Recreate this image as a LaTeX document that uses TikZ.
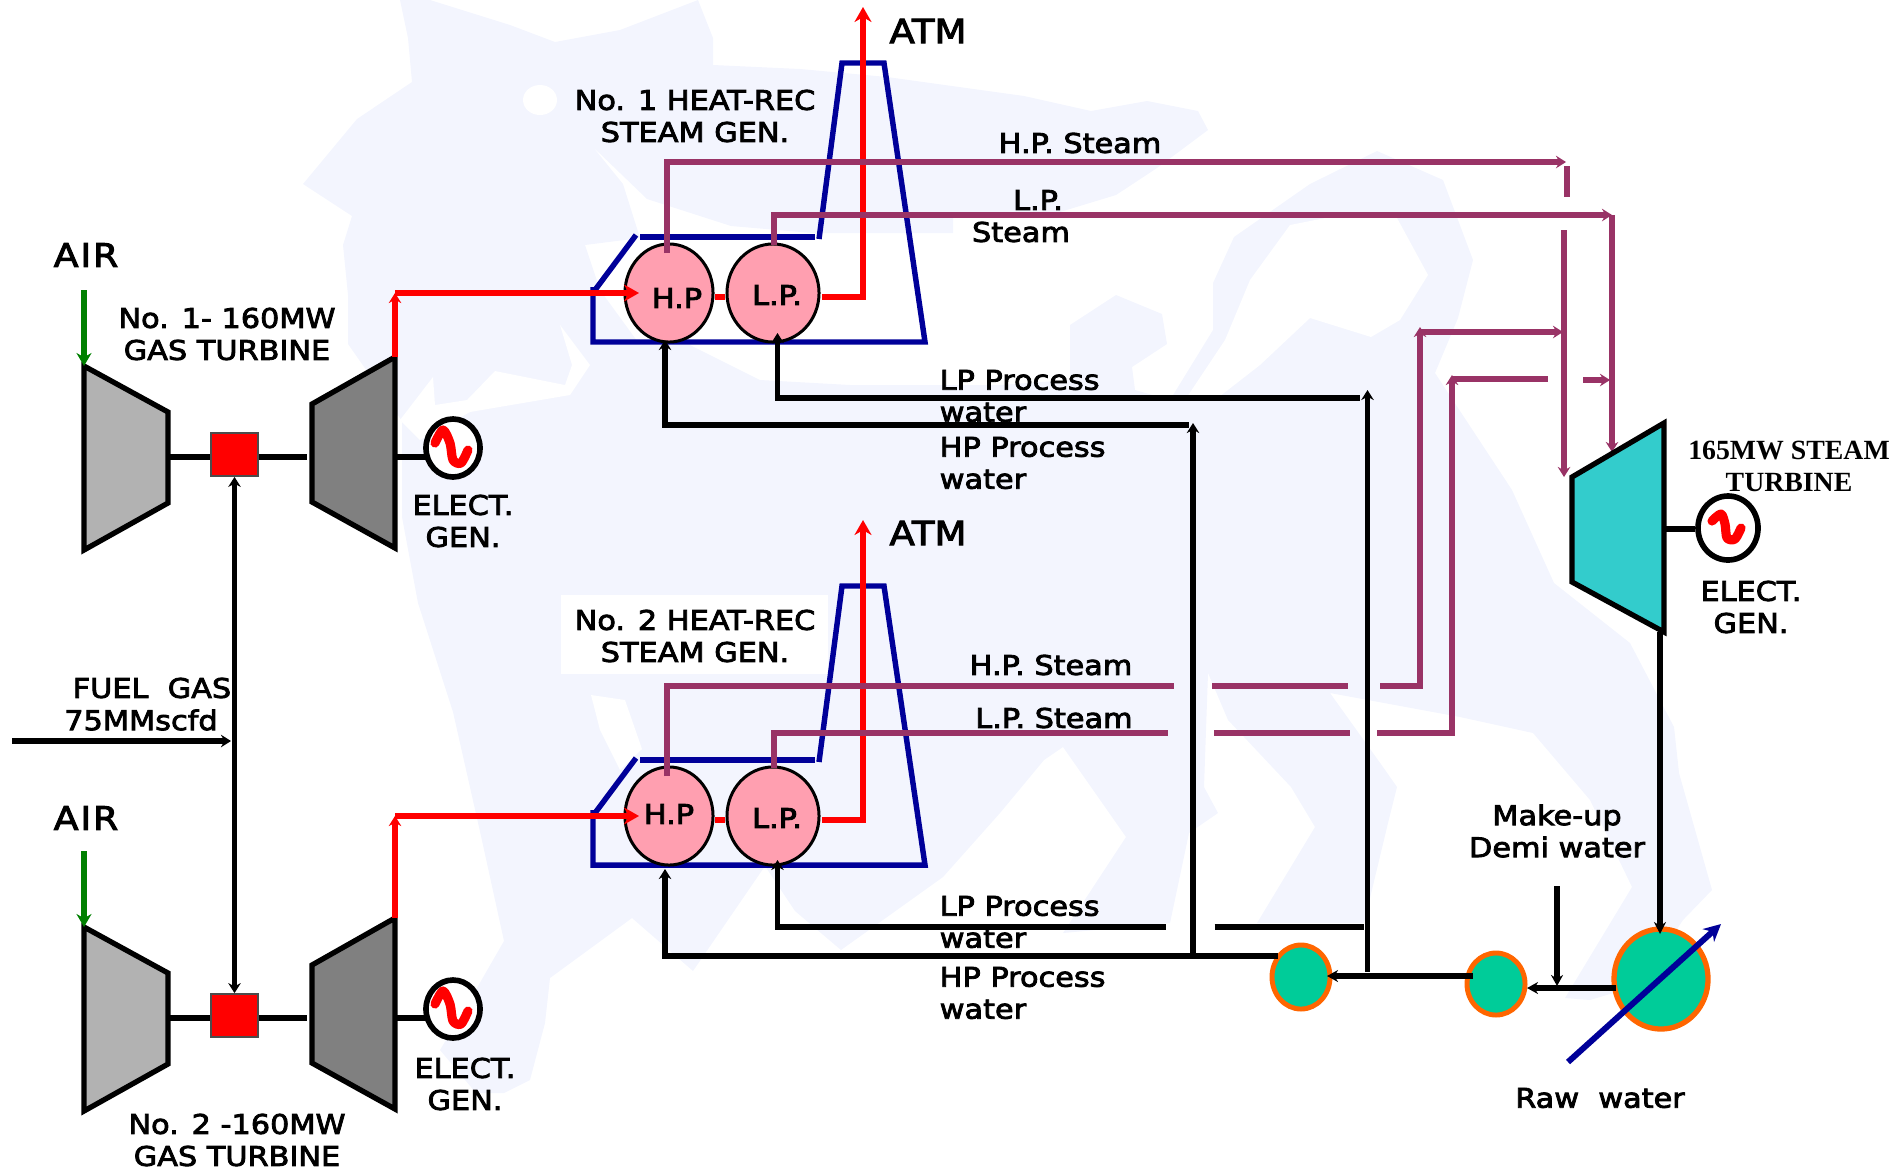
\documentclass[tikz,border=0pt]{standalone}
\usepackage{fontspec}
\usepackage{tikz}
\usetikzlibrary{arrows.meta,shapes.geometric,positioning}
\newfontfamily\lblfamily[FakeBold=3,FakeStretch=1.12]{DejaVu Sans}
\newfontfamily\airfamily[FakeBold=3,FakeStretch=1.12,LetterSpace=6]{DejaVu Sans}
\newfontfamily\stfamily{Liberation Serif Bold}
\definecolor{paleblue}{RGB}{243,245,254}
\definecolor{compcol}{RGB}{178,178,178}
\definecolor{turbcol}{RGB}{128,128,128}
\definecolor{steamturb}{RGB}{51,204,204}
\definecolor{hrsgcol}{RGB}{0,0,153}
\definecolor{steamcol}{RGB}{153,51,102}
\definecolor{drumcol}{RGB}{255,159,176}
\definecolor{pumpcol}{RGB}{0,204,153}
\definecolor{pumpedge}{RGB}{255,102,0}
\definecolor{aircol}{RGB}{0,128,0}
\tikzset{
  lbl/.style={inner sep=0pt,align=center,font=\lblfamily\fontsize{7.7}{9.1}\selectfont},
  lbig/.style={inner sep=0pt,font=\lblfamily\fontsize{9.4}{11}\selectfont},
  lair/.style={inner sep=0pt,font=\airfamily\fontsize{9.2}{11}\selectfont},
  lst/.style={inner sep=0pt,align=center,font=\stfamily\fontsize{7.9}{9.1}\selectfont},
  machine/.style={draw=black,line width=1.5pt,miter limit=3},
  shaft/.style={draw=black,line width=1.5pt},
  hrsg/.style={draw=hrsgcol,line width=1.55pt},
  flue/.style={draw=red,line width=1.55pt},
  steam/.style={draw=steamcol,line width=1.5pt},
  water/.style={draw=black,line width=1.5pt},
  bigtip/.style={-{Stealth[length=1.5mm,width=1.7mm]}},
  sqbox/.style={rectangle,draw=black!70,line width=0.5pt,fill=red,minimum width=0.47cm,minimum height=0.43cm,inner sep=0pt},
  gen/.style={ellipse,draw=black,line width=1.6pt,fill=white,inner sep=0pt},
  wave/.style={draw=red,line width=2.6pt,line cap=round,line join=round},
  drum/.style={ellipse,draw=black,line width=0.85pt,fill=drumcol,inner sep=0pt,minimum width=0.88cm,minimum height=0.98cm},
  pump/.style={ellipse,draw=pumpedge,line width=1.4pt,fill=pumpcol,inner sep=0pt}
}
\begin{document}
\begin{tikzpicture}[x=0.01cm,y=-0.01cm,>={Stealth[length=1mm,width=1.25mm]}]
  \useasboundingbox (0,0) rectangle (1904,1169);
  % pale map in the back
  \fill[paleblue] (400,0) -- (430,0) -- (510,25) -- (555,42) -- (620,30) -- (698,0) -- (713,38) -- (713,65)
    -- (800,69) -- (887,77) -- (1024,96) -- (1091,111) -- (1147,101) -- (1198,111) -- (1208,130) -- (1157,168)
    -- (1116,195) -- (1060,212) -- (953,214) -- (953,233) -- (813,233) -- (731,226) -- (647,199) -- (593,147)
    -- (623,184) -- (640,238) -- (585,245) -- (600,290) -- (640,345) -- (690,345) -- (760,380) -- (850,385)
    -- (1000,385) -- (1070,380) -- (1070,325) -- (1116,295) -- (1162,314) -- (1167,344) -- (1132,367) -- (1135,390)
    -- (1170,400) -- (1213,330) -- (1213,283) -- (1234,237) -- (1310,184) -- (1377,151) -- (1443,180) -- (1473,260)
    -- (1458,318) -- (1435,373) -- (1512,490) -- (1554,583) -- (1630,643) -- (1674,727) -- (1679,773) -- (1712,890)
    -- (1683,920) -- (1640,985) -- (1590,1000) -- (1565,998) -- (1632,887) -- (1590,800) -- (1533,733) -- (1460,717)
    -- (1330,693) -- (1383,767) -- (1397,787) -- (1388,823) -- (1364,923) -- (1257,923) -- (1315,827) -- (1291,787)
    -- (1228,720) -- (1208,673) -- (1204,787) -- (1218,813) -- (1189,833) -- (1170,923) -- (1063,933) -- (1126,837)
    -- (1063,747) -- (1044,760) -- (1000,813) -- (943,877) -- (841,950) -- (795,911) -- (765,866) -- (693,971)
    -- (632,918) -- (550,978) -- (545,1023) -- (530,1080) -- (504,1093) -- (476,1093) -- (440,1050) -- (470,1000)
    -- (504,941) -- (481,836) -- (453,712) -- (418,603) -- (402,517) -- (402,421) -- (348,344) -- (348,295)
    -- (343,245) -- (352,216) -- (303,184) -- (357,119) -- (412,82) -- (408,38) -- cycle;
  % holes in the map
  \fill[white] (540,100) ellipse (17 and 15);
  \fill[white] (1290,225) -- (1340,215) -- (1397,218) -- (1428,275) -- (1400,320) -- (1371,337) -- (1310,318)
    -- (1260,365) -- (1215,400) -- (1185,400) -- (1225,340) -- (1250,280) -- cycle;
  \fill[white] (400,420) -- (433,377) -- (435,405) -- (467,400) -- (495,371) -- (565,385) -- (572,365) -- (560,325)
    -- (590,365) -- (570,395) -- (470,412) -- (420,440) -- cycle;
  \fill[white] (591,695) -- (625,700) -- (642,749) -- (620,770) -- (600,730) -- cycle;
  \fill[white] (561,595) rectangle (828,674);

  % the two gas turbine trains
  \foreach \n/\dy in {1/0,2/561}{
    \filldraw[machine,fill=compcol] (84,366+\dy) -- (168,412+\dy) -- (168,503+\dy) -- (84,550+\dy) -- cycle;
    \filldraw[machine,fill=turbcol] (312,404+\dy) -- (395,357+\dy) -- (395,548+\dy) -- (312,502+\dy) -- cycle;
    \node[sqbox] (sq\n) at (234.5,454.5+\dy) {};
    \node[gen,minimum width=0.54cm,minimum height=0.58cm] (gen\n) at (453,448+\dy) {};
    \draw[wave,shift={(gen\n.center)}] plot[smooth] coordinates {(-18,-5) (-10,-18) (-3,-5) (0,12) (8,15) (15,2)};
    \coordinate (cpout\n) at (168,457+\dy);
    \coordinate (tbin\n) at (307,457+\dy);
    \coordinate (tbout\n) at (395,457+\dy);
    \coordinate (genin\n) at (427,457+\dy);
    \coordinate (airin\n) at (84,290+\dy);
    \coordinate (cptop\n) at (84,366+\dy);
    \coordinate (tbtop\n) at (395,357+\dy);
    \draw[shaft] (cpout\n) -- (cpout\n -| sq\n.west);
    \draw[shaft] (tbin\n -| sq\n.east) -- (tbin\n);
    \draw[shaft] (tbout\n) -- (genin\n);
    \draw[aircol,line width=1.7pt,-{Stealth[length=1.3mm,width=1.5mm]}] (airin\n) -- (cptop\n);
  }
  \coordinate (fuelin) at (12,741);
  \coordinate (fuelend) at (231,741);
  \draw[shaft,line width=1.7pt,->] (fuelin) -- (fuelend);
  \draw[water,<->] (sq1) -- (sq2);

  % the two heat recovery steam generators
  \foreach \n/\dy/\tip/\atmy in {1/0/7/31,2/523/520/533}{
    \draw[hrsg] (636,235+\dy) -- (595,290+\dy);
    \draw[hrsg] (593,287+\dy) -- (593,342+\dy) -- (925,342+\dy) -- (884,63+\dy) -- (842,63+\dy) -- (819,239+\dy);
    \draw[hrsg] (640,237+\dy) -- (815,237+\dy);
    \node[drum] (hp\n) at (669,293+\dy) {};
    \node[drum,minimum width=0.92cm] (lp\n) at (773,293+\dy) {};
    \coordinate (gtbend\n) at (395,293+\dy);
    \coordinate (link\n) at (721,297+\dy);
    \coordinate (stkout\n) at (822,297+\dy);
    \coordinate (stkbend\n) at (863,297+\dy);
    \coordinate (stktop\n) at (863,\tip);
    \coordinate (hptip\n) at (639,293+\dy);
    \draw[flue] (hp\n.east |- link\n) -- (lp\n.west |- link\n);
    \draw[flue,bigtip] (stkout\n) -- (stkbend\n) -- (stktop\n);
    \node[lbig] (atm\n) at (928,\atmy) {ATM};
  }
  \draw[flue,->] (tbtop1) -- (gtbend1);
  \draw[flue,bigtip] (gtbend1) -- (hptip1);
  \draw[flue,->] (tbtop2) -- (gtbend2);
  \draw[flue,bigtip] (gtbend2) -- (hptip2);

  % steam of no 1
  \coordinate (hs1a) at (667,253);
  \coordinate (hs1b) at (667,162);
  \coordinate (hs1c) at (1566,162);
  \coordinate (hs1d) at (1567,166);
  \coordinate (hs1e) at (1567,197);
  \coordinate (hs1f) at (1564,230);
  \coordinate (hs1g) at (1564,477);
  \coordinate (ls1a) at (774,245);
  \coordinate (ls1b) at (774,215);
  \coordinate (ls1c) at (1612,215);
  \coordinate (ls1d) at (1612,452);
  \draw[steam,->] (hs1a) -- (hs1b) -- (hs1c);
  \draw[steam] (hs1d) -- (hs1e);
  \draw[steam,->] (hs1f) -- (hs1g);
  \draw[steam,->] (ls1a) -- (ls1b) -- (ls1c);
  \draw[steam,->] (ls1c) -- (ls1d);
  % steam of no 2, broken where it passes the water lines
  \coordinate (hs2a) at (667,776);
  \coordinate (hs2b) at (667,686);
  \coordinate (hs2c) at (1174,686);
  \coordinate (hs2d) at (1212,686);
  \coordinate (hs2e) at (1348,686);
  \coordinate (hs2f) at (1380,686);
  \coordinate (hs2g) at (1420,686);
  \coordinate (hs2h) at (1420,327);
  \coordinate (hs2i) at (1420,332);
  \coordinate (hs2j) at (1563,332);
  \coordinate (ls2a) at (774,768);
  \coordinate (ls2b) at (774,733);
  \coordinate (ls2c) at (1168,733);
  \coordinate (ls2d) at (1214,733);
  \coordinate (ls2e) at (1350,733);
  \coordinate (ls2f) at (1377,733);
  \coordinate (ls2g) at (1452,733);
  \coordinate (ls2h) at (1452,375);
  \coordinate (ls2i) at (1452,379);
  \coordinate (ls2j) at (1548,379);
  \coordinate (ls2k) at (1583,380);
  \coordinate (ls2l) at (1610,380);
  \draw[steam] (hs2a) -- (hs2b) -- (hs2c);
  \draw[steam] (hs2d) -- (hs2e);
  \draw[steam,->] (hs2f) -- (hs2g) -- (hs2h);
  \draw[steam,->] (hs2i) -- (hs2j);
  \draw[steam] (ls2a) -- (ls2b) -- (ls2c);
  \draw[steam] (ls2d) -- (ls2e);
  \draw[steam,->] (ls2f) -- (ls2g) -- (ls2h);
  \draw[steam] (ls2i) -- (ls2j);
  \draw[steam,->] (ls2k) -- (ls2l);

  % steam turbine and its generator
  \filldraw[machine,fill=steamturb] (1572,477) -- (1664,423) -- (1664,632) -- (1572,582) -- cycle;
  \node[gen,minimum width=0.6cm,minimum height=0.64cm] (gen3) at (1728,528) {};
  \draw[wave,shift={(gen3.center)}] plot[smooth] coordinates {(-16,-7) (-7,-14) (-3,-4) (-1,10) (7,11) (13,0)};
  \coordinate (sthout) at (1664,529);
  \draw[shaft] (sthout) -- (sthout -| gen3.west);

  % pumps and the water lines
  \node[pump,line width=1.5pt,minimum width=0.94cm,minimum height=1cm] (cond) at (1661,979) {};
  \node[pump,minimum width=0.58cm,minimum height=0.62cm] (pmpb) at (1496,984) {};
  \node[pump,minimum width=0.58cm,minimum height=0.64cm] (pmpa) at (1301,977) {};
  \coordinate (sthdown) at (1660,632);
  \coordinate (condtop) at (1660,934);
  \coordinate (condout) at (1616,988);
  \coordinate (pmpbin) at (1527,988);
  \coordinate (mkup) at (1557,886);
  \coordinate (mkdown) at (1557,986);
  \coordinate (pmpbout) at (1473,976);
  \coordinate (pmpain) at (1327,976);
  \coordinate (rawin) at (1568,1062);
  \coordinate (rawout) at (1721,924);
  \draw[water,-{Stealth[length=1.2mm,width=1.2mm]}] (sthdown) -- (condtop);
  \draw[water,-{Stealth[length=1.1mm,width=1.2mm]}] (condout) -- (pmpbin);
  \draw[water,-{Stealth[length=1.1mm,width=1.2mm]}] (mkup) -- (mkdown);
  \draw[water,-{Stealth[length=1.1mm,width=1.2mm]}] (pmpbout) -- (pmpain);
  \draw[hrsgcol,line width=1.7pt,-{Stealth[length=1.7mm,width=1.7mm]}] (rawin) -- (rawout);
  % feed water of no 1
  \coordinate (hw1a) at (665,340);
  \coordinate (hw1b) at (665,425);
  \coordinate (hw1c) at (1189,425);
  \coordinate (hw1d) at (1193,423);
  \coordinate (hw1e) at (1193,956);
  \coordinate (lw1a) at (777.5,333);
  \coordinate (lw1b) at (777.5,398);
  \coordinate (lw1c) at (1360,398);
  \coordinate (lw1d) at (1367.5,390);
  \coordinate (lw1e) at (1367.5,972);
  \draw[water,<-] (hw1a) -- (hw1b) -- (hw1c);
  \draw[water,->] (hw1e) -- (hw1d);
  \draw[water,<-] (lw1a) -- (lw1b) -- (lw1c);
  \draw[water,->] (lw1e) -- (lw1d);
  % feed water of no 2
  \coordinate (hw2a) at (665,869);
  \coordinate (hw2b) at (665,956);
  \coordinate (hw2c) at (1278,956);
  \coordinate (lw2a) at (777.5,860);
  \coordinate (lw2b) at (777.5,927);
  \coordinate (lw2c) at (1166,927);
  \coordinate (lw2d) at (1214.5,927);
  \coordinate (lw2e) at (1364,927);
  \draw[water,<-] (hw2a) -- (hw2b) -- (hw2c);
  \draw[water,<-] (lw2a) -- (lw2b) -- (lw2c);
  \draw[water] (lw2d) -- (lw2e);

  % labels
  \node[lair] (air1) at (86,255) {AIR};
  \node[lair] (air2) at (86,818) {AIR};
  \node[lbl] (gt1) at (227,334) {No. 1- 160MW\\GAS TURBINE};
  \node[lbl] (gt2) at (237,1140) {No. 2 -160MW\\GAS TURBINE};
  \node[lbl] (el1) at (463,521) {ELECT.\\GEN.};
  \node[lbl] (el2) at (465,1084) {ELECT.\\GEN.};
  \node[lbl] (el3) at (1751,607) {ELECT.\\GEN.};
  \node[lbl] (fuel1) at (152,688) {FUEL\ \ GAS};
  \node[lbl] (fuel2) at (141,720) {75MMscfd};
  \node[lbl] (hr1) at (695,116) {No. 1 HEAT-REC\\STEAM GEN.};
  \node[lbl] (hr2) at (695,636) {No. 2 HEAT-REC\\STEAM GEN.};
  \node[lbl] (hpt1) at (677,298) {H.P};
  \node[lbl] (lpt1) at (777,295) {L.P.};
  \node[lbl] (hpt2) at (669,814) {H.P};
  \node[lbl] (lpt2) at (777,818) {L.P.};
  \node[lbl] (hst1) at (1080,143) {H.P. Steam};
  \node[lbl] (lst1a) at (1038,200) {L.P.};
  \node[lbl] (lst1b) at (1021,232) {Steam};
  \node[lbl] (hst2) at (1051,665) {H.P. Steam};
  \node[lbl] (lst2) at (1054,718) {L.P. Steam};
  \node[lbl,anchor=west,align=left] (lpw1) at (939,396) {LP Process\\water};
  \node[lbl,anchor=west,align=left] (hpw1) at (939,463) {HP Process\\water};
  \node[lbl,anchor=west,align=left] (lpw2) at (939,922) {LP Process\\water};
  \node[lbl,anchor=west,align=left] (hpw2) at (939,993) {HP Process\\water};
  \node[lst] (stb) at (1789,466) {165MW STEAM\\TURBINE};
  \node[lbl] (mk) at (1557,831) {Make-up\\Demi water};
  \node[lbl] (raw) at (1600,1098) {Raw\ \ water};
\end{tikzpicture}
\end{document}
